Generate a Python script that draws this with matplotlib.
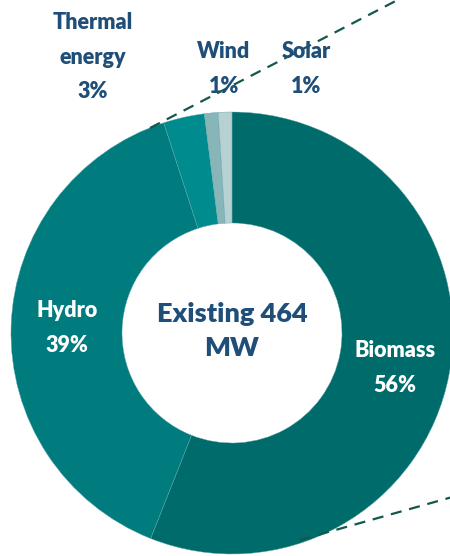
import matplotlib
matplotlib.use("Agg")
import matplotlib.pyplot as plt

# installed capacity split, clockwise from 12 o'clock
sources = ["Biomass", "Hydro", "Thermal energy", "Wind", "Solar"]
shares = [56, 39, 3, 1, 1]
colors = ["#006b6b", "#007b7e", "#008c8f", "#88b5b8", "#b7d1d3"]
total_mw = 464

W, H = 450, 556
navy = "#1f4e79"
font = ["Lato", "DejaVu Sans"]

fig = plt.figure(figsize=(W / 100, H / 100), dpi=100)
ax = fig.add_axes([0, 0, 1, 1])

cx, cy = 232, 223
R, r = 221, 110
ax.pie(shares, colors=colors, startangle=90, counterclock=False,
       center=(cx, cy), radius=R, frame=True,
       wedgeprops=dict(width=R - r, edgecolor="#5fa5a8", linewidth=0.3))
ax.set_xlim(0, W)
ax.set_ylim(0, H)
ax.set_aspect("equal")
ax.axis("off")

# zoom-out connector lines
ax.plot([150, 415], [428, 565], ls=(0, (5, 3.5)), color="#14574f", lw=1.6,
        clip_on=False)
ax.plot([300, 470], [16, 64], ls=(0, (5, 3.5)), color="#14574f", lw=1.6,
        clip_on=False)

lab = dict(family=font, fontweight="heavy", ha="center", va="center",
           fontsize=15.5, linespacing=1.8)
ax.text(395, 188, f"{sources[0]}\n{shares[0]}%", color="white", **lab)
ax.text(67, 228, f"{sources[1]}\n{shares[1]}%", color="white", **lab)
ax.text(93, 499, "Thermal\nenergy\n%d%%" % shares[2], color=navy, **lab)
ax.text(224, 487, f"{sources[3]}\n{shares[3]}%", color=navy, **lab)
ax.text(306, 487, f"{sources[4]}\n{shares[4]}%", color=navy, **lab)

ax.text(cx, cy + 2, f"Existing {total_mw}\nMW", color=navy, family=font,
        fontweight="heavy", ha="center", va="center", fontsize=19.5,
        linespacing=1.5)

fig.savefig("out.png", dpi=100)
